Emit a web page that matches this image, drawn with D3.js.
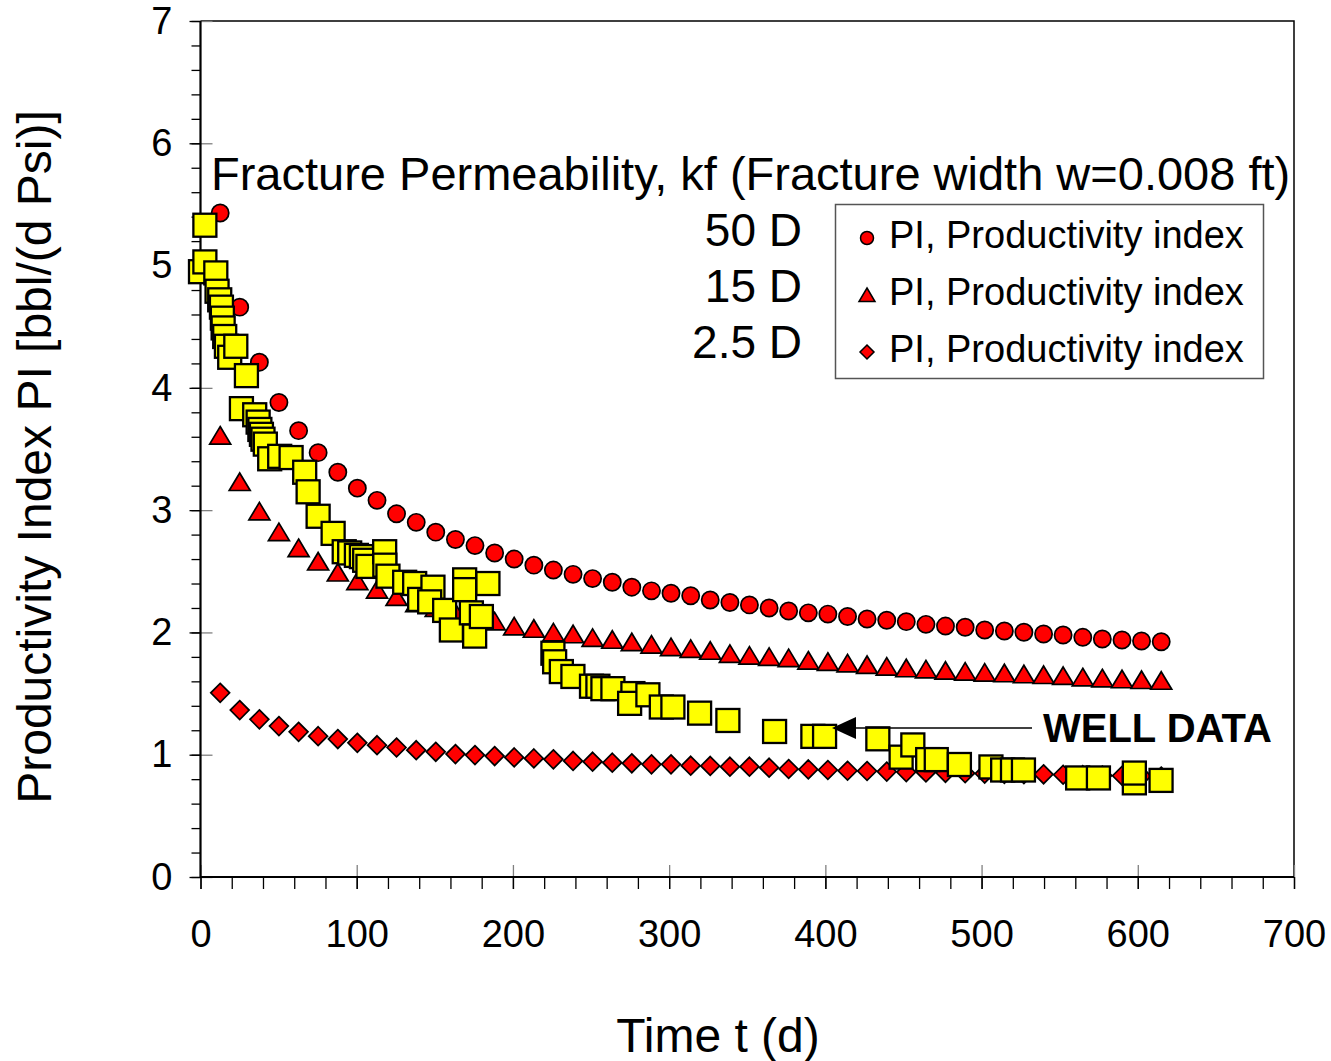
<!DOCTYPE html>
<html>
<head>
<meta charset="utf-8">
<script src="https://cdn.jsdelivr.net/npm/d3@7"></script>
<style>
  body { margin: 0; background: #fff; }
  text { font-family: "Liberation Sans", Arial, sans-serif; }
</style>
</head>
<body>
<div id="canvas"></div>
<script>
// model time steps (days), shared by the three model curves
const modelT = [12.6, 25.1, 37.7, 50.2, 62.8, 75.3, 87.9, 100.4, 113.0, 125.5,
  138.1, 150.6, 163.2, 175.7, 188.3, 200.8, 213.4, 225.9, 238.5, 251.0,
  263.6, 276.1, 288.7, 301.2, 313.8, 326.3, 338.9, 351.4, 364.0, 376.5,
  389.1, 401.6, 414.2, 426.7, 439.3, 451.8, 464.4, 476.9, 489.5, 502.0,
  514.6, 527.1, 539.7, 552.2, 564.8, 577.3, 589.9, 602.4, 615.0]

// 50 D
const pi50 = [5.43, 4.66, 4.21, 3.88, 3.65, 3.47, 3.31, 3.18, 3.08, 2.97,
  2.90, 2.82, 2.76, 2.71, 2.65, 2.60, 2.55, 2.51, 2.475, 2.44,
  2.41, 2.37, 2.34, 2.32, 2.30, 2.265, 2.245, 2.225, 2.20, 2.175,
  2.16, 2.15, 2.13, 2.11, 2.10, 2.088, 2.066, 2.052, 2.042, 2.02,
  2.012, 2.001, 1.987, 1.979, 1.96, 1.946, 1.938, 1.93, 1.924]
// 15 D
const pi15 = [3.61, 3.23, 2.99, 2.82, 2.69, 2.58, 2.49, 2.42, 2.35, 2.29,
  2.24, 2.20, 2.16, 2.12, 2.09, 2.05, 2.03, 2.00, 1.985, 1.955,
  1.94, 1.92, 1.90, 1.88, 1.865, 1.85, 1.825, 1.81, 1.80, 1.79,
  1.77, 1.76, 1.747, 1.734, 1.72, 1.707, 1.698, 1.687, 1.679, 1.671,
  1.666, 1.658, 1.652, 1.644, 1.633, 1.625, 1.617, 1.611, 1.605]
// 2.5 D
const pi25 = [1.506, 1.365, 1.289, 1.234, 1.187, 1.152, 1.128, 1.097, 1.078, 1.059,
  1.037, 1.024, 1.005, 0.997, 0.989, 0.978, 0.970, 0.962, 0.949, 0.943,
  0.935, 0.930, 0.921, 0.921, 0.910, 0.908, 0.902, 0.902, 0.894, 0.883,
  0.880, 0.875, 0.869, 0.867, 0.862, 0.858, 0.855, 0.852, 0.849, 0.846,
  0.844, 0.842, 0.840, 0.836, 0.833, 0.830, 0.828, 0.825, 0.822]

// well data
const wellT = [0, 2.8, 2.8, 9.8, 10.6, 12.3, 13.4, 14.0, 14.5, 15.5,
  16.6, 18.7, 22.6, 29.4, 26.2, 34.7, 36.9, 38.0, 39.0, 40.0,
  41.5, 44.3, 50.7, 58.0, 66.7, 68.9, 75.3, 84.9, 92.0, 95.5,
  99.8, 103.0, 105.1, 107.2, 117.9, 118.0, 120.0, 130.7, 137.1, 140.3,
  148.8, 146.7, 156.3, 160.6, 169.1, 169.1, 173.4, 175.5, 179.8, 184.0,
  225.6, 226.7, 231.0, 238.4, 250.3, 254.4, 257.6, 264.0, 276.8, 274.7,
  286.4, 295.0, 302.4, 319.5, 337.6, 367.5, 392.0, 399.5, 433.6, 448.5,
  456.0, 465.5, 471.0, 485.8, 506.0, 513.5, 519.8, 526.8, 561.5, 574.8,
  597.8, 597.8, 614.9]
const wellPI = [4.95, 5.33, 5.03, 4.94, 4.79, 4.72, 4.66, 4.57, 4.49, 4.42,
  4.34, 4.25, 4.34, 4.10, 3.83, 3.78, 3.72, 3.66, 3.62, 3.58,
  3.54, 3.42, 3.44, 3.43, 3.31, 3.15, 2.95, 2.81, 2.66, 2.65,
  2.63, 2.62, 2.59, 2.54, 2.66, 2.55, 2.46, 2.41, 2.40, 2.27,
  2.37, 2.25, 2.18, 2.02, 2.43, 2.35, 2.16, 1.97, 2.13, 2.40,
  1.83, 1.76, 1.68, 1.64, 1.56, 1.56, 1.54, 1.54, 1.50, 1.42,
  1.49, 1.39, 1.39, 1.34, 1.28, 1.19, 1.15, 1.15, 1.13, 0.98,
  1.08, 0.96, 0.96, 0.92, 0.90, 0.875, 0.875, 0.875, 0.81, 0.81,
  0.77, 0.85, 0.79]

const xTicks = [0, 100, 200, 300, 400, 500, 600, 700]
const yTicks = [0, 1, 2, 3, 4, 5, 6, 7]
const perms = ['50 D', '15 D', '2.5 D']
const legendLabel = 'PI, Productivity index'

const width = 1331
const height = 1061
const margin = {top: 21, left: 200.5, right: 37, bottom: 184}

const svg = d3.select('#canvas')
  .append('svg')
  .attr('width', width)
  .attr('height', height)

let x = d3.scaleLinear()
  .domain([0, 700])
  .range([margin.left, width - margin.right])

let y = d3.scaleLinear()
  .domain([0, 7])
  .range([height - margin.bottom, margin.top])

const x0 = x(0), x1 = x(700), yb = y(0), yt = y(7)

// frame
svg.append('path')
  .attr('d', `M${x0},${yt} H${x1} V${yb}`)
  .attr('fill', 'none').attr('stroke', '#000').attr('stroke-width', 1.5)

// minor ticks (outside)
svg.append('g')
  .attr('transform', `translate(0,${yb})`)
  .call(d3.axisBottom(x).tickValues(d3.range(0, 701, 20)).tickSize(12).tickFormat(''))
svg.append('g')
  .attr('transform', `translate(${x0},0)`)
  .call(d3.axisLeft(y).tickValues(d3.range(0, 7.01, 0.2)).tickSize(9).tickFormat(''))

// major ticks inside (grey)
let xIn = svg.append('g')
  .attr('transform', `translate(0,${yb})`)
  .call(d3.axisBottom(x).tickValues(xTicks).tickSize(-12).tickFormat(''))
let yIn = svg.append('g')
  .attr('transform', `translate(${x0},0)`)
  .call(d3.axisLeft(y).tickValues(yTicks).tickSize(-12).tickFormat(''))
xIn.selectAll('line').attr('stroke', '#808080').attr('stroke-width', 1.5)
yIn.selectAll('line').attr('stroke', '#808080').attr('stroke-width', 1.5)

// major ticks outside + labels
let xAxis = svg.append('g')
  .attr('transform', `translate(0,${yb})`)
  .call(d3.axisBottom(x).tickValues(xTicks).tickSize(12).tickPadding(31).tickFormat(d3.format('d')))
let yAxis = svg.append('g')
  .attr('transform', `translate(${x0},0)`)
  .call(d3.axisLeft(y).tickValues(yTicks).tickSize(11).tickPadding(17).tickFormat(d3.format('d')))

svg.selectAll('.domain').remove()
svg.selectAll('.tick line').attr('stroke-width', 1.3)
xAxis.selectAll('text').attr('font-size', 38).attr('fill', '#000')
  .style('font-family', '"Liberation Sans", Arial, sans-serif')
yAxis.selectAll('text').attr('font-size', 38).attr('fill', '#000')
  .style('font-family', '"Liberation Sans", Arial, sans-serif')

// thick left / bottom axis lines
svg.append('path')
  .attr('d', `M${x0},${yt} V${yb} H${x1}`)
  .attr('fill', 'none').attr('stroke', '#000').attr('stroke-width', 2.2)

// axis titles
svg.append('text')
  .text('Time t (d)')
  .attr('x', 718).attr('y', 1052)
  .attr('text-anchor', 'middle')
  .attr('font-size', 48)

svg.append('text')
  .text('Productivity Index PI [bbl/(d Psi)]')
  .attr('transform', 'translate(51,457) rotate(-90)')
  .attr('text-anchor', 'middle')
  .attr('font-size', 48)

// markers
const triPath = 'M0,-9 L10.5,8.5 L-10.5,8.5 Z'
const diaPath = 'M0,-9.4 L9.4,0 L0,9.4 L-9.4,0 Z'

let circles = svg.append('g').selectAll('circle')
  .data(modelT.map((t, i) => [t, pi50[i]])).enter()
circles.append('circle')
  .attr('cx', d => x(d[0]))
  .attr('cy', d => y(d[1]))
  .attr('r', 8.6)
  .attr('fill', '#ff0000').attr('stroke', '#000').attr('stroke-width', 1.7)

svg.append('g').selectAll('path')
  .data(modelT.map((t, i) => [t, pi15[i]])).enter()
  .append('path')
  .attr('d', triPath)
  .attr('transform', d => `translate(${x(d[0])},${y(d[1])})`)
  .attr('fill', '#ff0000').attr('stroke', '#000').attr('stroke-width', 1.7)

svg.append('g').selectAll('path')
  .data(modelT.map((t, i) => [t, pi25[i]])).enter()
  .append('path')
  .attr('d', diaPath)
  .attr('transform', d => `translate(${x(d[0])},${y(d[1])})`)
  .attr('fill', '#ff0000').attr('stroke', '#000').attr('stroke-width', 1.7)

svg.append('g').selectAll('rect')
  .data(wellT.map((t, i) => [t, wellPI[i]])).enter()
  .append('rect')
  .attr('x', d => x(d[0]) - 11.5)
  .attr('y', d => y(d[1]) - 11.5)
  .attr('width', 23).attr('height', 23)
  .attr('fill', '#ffff00').attr('stroke', '#000').attr('stroke-width', 2.3)

// annotation
svg.append('text')
  .text('Fracture Permeability, kf (Fracture width w=0.008 ft)')
  .attr('x', 211).attr('y', 190)
  .attr('font-size', 47)

svg.selectAll('.perm')
  .data(perms).enter()
  .append('text')
  .attr('class', 'perm')
  .text(d => d)
  .attr('x', 802)
  .attr('y', (d, i) => 246 + i * 56)
  .attr('text-anchor', 'end')
  .attr('font-size', 46)

// legend
let legend = svg.append('g')
legend.append('rect')
  .attr('x', 835.5).attr('y', 204.5)
  .attr('width', 428).attr('height', 174)
  .attr('fill', '#fff').attr('stroke', '#555').attr('stroke-width', 1.5)

const legendShapes = ['circle', 'tri', 'dia']
legendShapes.forEach((s, i) => {
  let cy = 238 + i * 57
  if (s === 'circle') {
    legend.append('circle').attr('cx', 867).attr('cy', cy).attr('r', 6.5)
      .attr('fill', '#ff0000').attr('stroke', '#000').attr('stroke-width', 1.5)
  } else {
    legend.append('path')
      .attr('d', s === 'tri' ? 'M0,-7 L8,6.5 L-8,6.5 Z' : 'M0,-7 L7,0 L0,7 L-7,0 Z')
      .attr('transform', `translate(867,${cy})`)
      .attr('fill', '#ff0000').attr('stroke', '#000').attr('stroke-width', 1.5)
  }
  legend.append('text')
    .text(legendLabel)
    .attr('x', 889).attr('y', cy + 10)
    .attr('font-size', 38)
})

// well data arrow
svg.append('line')
  .attr('x1', 1032).attr('y1', 728)
  .attr('x2', 852).attr('y2', 728)
  .attr('stroke', '#000').attr('stroke-width', 1.5)
svg.append('path')
  .attr('d', 'M832,728 L856,717 L856,739 Z')
  .attr('fill', '#000')

svg.append('text')
  .text('WELL DATA')
  .attr('x', 1043).attr('y', 742)
  .attr('font-size', 40)
  .attr('font-weight', 'bold')
</script>
</body>
</html>
